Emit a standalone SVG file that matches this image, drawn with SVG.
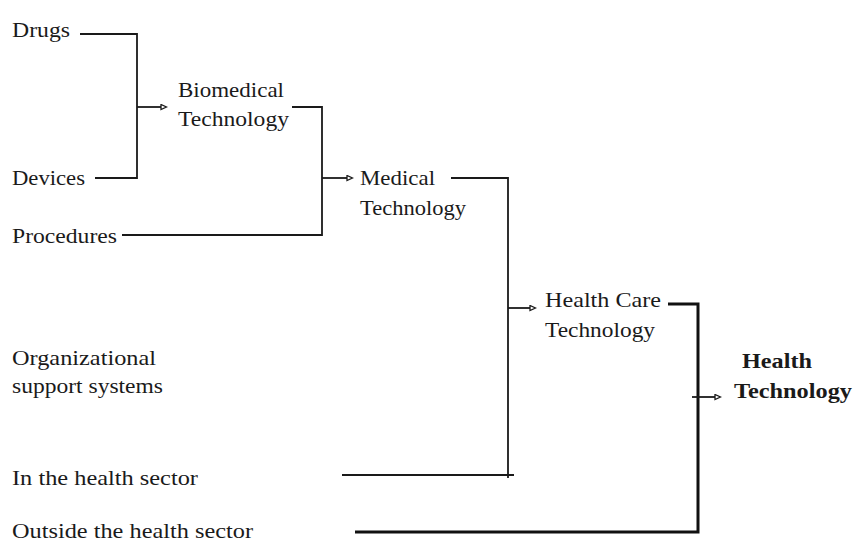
<svg xmlns="http://www.w3.org/2000/svg" width="855" height="545" viewBox="0 0 855 545">
<style>
text { font-family: "Liberation Serif", "DejaVu Serif", serif; font-size: 22px; fill: #1a1a1a; }
.b { font-weight: bold; }
.ln { fill: none; stroke: #1a1a1a; stroke-width: 1.8; }
.thick { fill: none; stroke: #111; stroke-width: 3; }
</style>
<defs>
<marker id="ah" markerWidth="8" markerHeight="8" refX="6" refY="3.5" orient="auto" markerUnits="userSpaceOnUse">
<path d="M1,1 L6.5,3.5 L1,6 Z" fill="#fff" stroke="#1a1a1a" stroke-width="1.3"/>
</marker>
</defs>
<rect width="855" height="545" fill="#fff"/>
<g id="connectors">
<path class="ln" d="M80,34 H137 V178 H95"/>
<path class="ln" d="M137,107 H166" marker-end="url(#ah)"/>
<path class="ln" d="M292,107 H322 V235 H122"/>
<path class="ln" d="M322,178 H352" marker-end="url(#ah)"/>
<path class="ln" d="M451,178 H508 V478"/>
<path class="ln" d="M342,475 H514"/>
<path class="ln" d="M508,308 H535" marker-end="url(#ah)"/>
<path class="thick" d="M668,304 H698 V532 H355"/>
<path class="ln" d="M692,397 H720" marker-end="url(#ah)"/>
</g>
<g id="drugs"><text x="12" y="37" textLength="58" lengthAdjust="spacingAndGlyphs">Drugs</text></g>
<g id="devices"><text x="12" y="185" textLength="73" lengthAdjust="spacingAndGlyphs">Devices</text></g>
<g id="procedures"><text x="12" y="243" textLength="105" lengthAdjust="spacingAndGlyphs">Procedures</text></g>
<g id="biomedical"><text x="178" y="97" textLength="106" lengthAdjust="spacingAndGlyphs">Biomedical</text><text x="178" y="126" textLength="111" lengthAdjust="spacingAndGlyphs">Technology</text></g>
<g id="medical"><text x="360" y="185" textLength="75" lengthAdjust="spacingAndGlyphs">Medical</text><text x="360" y="215" textLength="106" lengthAdjust="spacingAndGlyphs">Technology</text></g>
<g id="healthcare"><text x="545" y="307" textLength="116" lengthAdjust="spacingAndGlyphs">Health Care</text><text x="545" y="337" textLength="110" lengthAdjust="spacingAndGlyphs">Technology</text></g>
<g id="health"><text class="b" x="742" y="368" textLength="70" lengthAdjust="spacingAndGlyphs">Health</text><text class="b" x="734" y="398" textLength="118" lengthAdjust="spacingAndGlyphs">Technology</text></g>
<g id="organizational"><text x="12" y="365" textLength="144" lengthAdjust="spacingAndGlyphs">Organizational</text><text x="12" y="393" textLength="151" lengthAdjust="spacingAndGlyphs">support systems</text></g>
<g id="inside"><text x="12" y="485" textLength="186" lengthAdjust="spacingAndGlyphs">In the health sector</text></g>
<g id="outside"><text x="12" y="538" textLength="241" lengthAdjust="spacingAndGlyphs">Outside the health sector</text></g>
</svg>
